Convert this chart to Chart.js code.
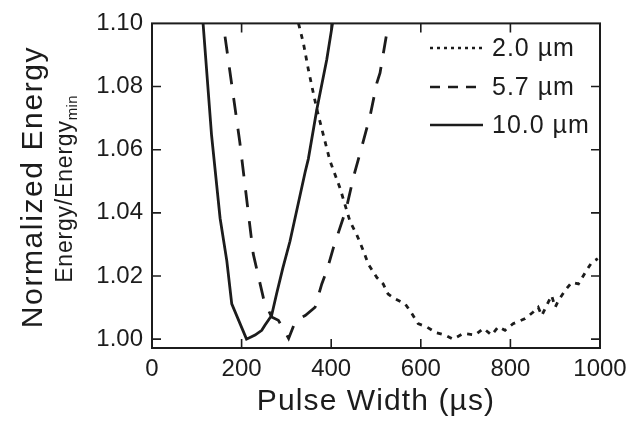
<!DOCTYPE html>
<html>
<head>
<meta charset="utf-8">
<script src="https://cdn.jsdelivr.net/npm/chart.js@4.4.1/dist/chart.umd.min.js"></script>
<style>
  html, body { margin: 0; padding: 0; background: #fff; }
  canvas { display: block; }
</style>
</head>
<body>
<canvas id="energyChart" width="635" height="425"></canvas>
<script>
// pulse width (µs) / normalized energy
const seriesNames = ['2.0 µm', '5.7 µm', '10.0 µm'];

const x2um = [327, 338, 349, 360, 368, 379, 397, 420, 442, 457, 472, 483, 502, 516, 527, 542, 565, 580, 594, 613, 635, 654, 672, 695, 721, 740, 758, 773, 788, 806, 833, 851, 862, 870, 881, 892, 900, 907, 922, 937, 952, 967, 981, 995];
const y2um = [1.100, 1.0937, 1.0854, 1.078, 1.0728, 1.0666, 1.0566, 1.0477, 1.0373, 1.0331, 1.0279, 1.0237, 1.0195, 1.0175, 1.0143, 1.0128, 1.0112, 1.0081, 1.0049, 1.0039, 1.0020, 1.0013, 1.0000, 1.0018, 1.0013, 1.0034, 1.0013, 1.0039, 1.0028, 1.0049, 1.0065, 1.0086, 1.0101, 1.0075, 1.0107, 1.0138, 1.0101, 1.0122, 1.0154, 1.018, 1.0175, 1.0211, 1.0242, 1.0255];

const x5um = [163, 196, 226, 250, 267, 282, 293, 305, 321, 342, 364, 379, 390, 405, 433, 451, 468, 487, 502, 509, 524];
const y5um = [1.0958, 1.0624, 1.027, 1.0122, 1.007, 1.006, 1.0034, 1.0002, 1.006, 1.0075, 1.0101, 1.0175, 1.0216, 1.029, 1.041, 1.052, 1.0608, 1.0708, 1.0812, 1.0843, 1.0969];

const x10um = [114, 133, 152, 167, 178, 211, 230, 245, 252, 267, 278, 292, 308, 342, 349, 368, 390, 403];
const y10um = [1.100, 1.0645, 1.0383, 1.0248, 1.0112, 1.000, 1.0013, 1.0028, 1.0044, 1.0075, 1.0143, 1.0225, 1.031, 1.053, 1.0571, 1.0728, 1.0885, 1.100];

const xTicks = [0, 200, 400, 600, 800, 1000];
const yTicks = [1.00, 1.02, 1.04, 1.06, 1.08, 1.10];

const FONT = '"Liberation Sans", Arial, sans-serif';
const INK = '#1c1c1c';

const toPoints = (xs, ys) => xs.map((x, i) => ({ x, y: ys[i] }));

const plotDash = [[5, 6], [17, 14], []];
const legendDash = [[3, 4], [10, 8], []];

// frame, inward ticks on all four sides, legend and axis titles
const decorPlugin = {
  id: 'decor',
  afterDraw(chart) {
    const { ctx, chartArea: a, scales } = chart;
    ctx.save();
    ctx.strokeStyle = INK;
    ctx.lineWidth = 2;
    ctx.strokeRect(a.left, a.top, a.right - a.left, a.bottom - a.top);

    const tl = 9;
    ctx.lineWidth = 1.6;
    ctx.beginPath();
    xTicks.slice(1, -1).forEach(v => {
      const px = scales.x.getPixelForValue(v);
      ctx.moveTo(px, a.bottom); ctx.lineTo(px, a.bottom - tl);
      ctx.moveTo(px, a.top); ctx.lineTo(px, a.top + tl);
    });
    yTicks.slice(0, -1).forEach(v => {
      const py = scales.y.getPixelForValue(v);
      ctx.moveTo(a.left, py); ctx.lineTo(a.left + tl, py);
      ctx.moveTo(a.right, py); ctx.lineTo(a.right - tl, py);
    });
    ctx.stroke();

    // legend
    const rows = [48, 87, 125];
    ctx.font = '25px ' + FONT;
    ctx.letterSpacing = '1px';
    ctx.fillStyle = INK;
    ctx.textBaseline = 'middle';
    ctx.textAlign = 'left';
    rows.forEach((y, i) => {
      ctx.beginPath();
      ctx.lineWidth = 2.5;
      ctx.setLineDash(legendDash[i]);
      ctx.moveTo(430, y); ctx.lineTo(483, y);
      ctx.stroke();
      ctx.setLineDash([]);
      ctx.fillText(seriesNames[i], 492, y + 1);
    });

    // x title
    ctx.textBaseline = 'alphabetic';
    ctx.textAlign = 'center';
    ctx.font = '30px ' + FONT;
    ctx.letterSpacing = '1.1px';
    ctx.fillText('Pulse Width (µs)', (a.left + a.right) / 2, 410);

    // y titles
    ctx.save();
    ctx.translate(42, 187);
    ctx.rotate(-Math.PI / 2);
    ctx.font = '30px ' + FONT;
    ctx.letterSpacing = '1.6px';
    ctx.fillText('Normalized Energy', 0, 0);
    ctx.restore();

    ctx.save();
    ctx.translate(72, 189);
    ctx.rotate(-Math.PI / 2);
    const main = 'Energy/Energy';
    ctx.font = '23px ' + FONT;
    ctx.letterSpacing = '0.8px';
    const wMain = ctx.measureText(main).width;
    ctx.font = '15px ' + FONT;
    ctx.letterSpacing = '0.3px';
    const wSub = ctx.measureText('min').width;
    const x0 = -(wMain + wSub) / 2;
    ctx.textAlign = 'left';
    ctx.font = '23px ' + FONT;
    ctx.letterSpacing = '0.8px';
    ctx.fillText(main, x0, 0);
    ctx.font = '15px ' + FONT;
    ctx.letterSpacing = '0.3px';
    ctx.fillText('min', x0 + wMain, 5);
    ctx.restore();

    ctx.restore();
  }
};

const datasets = [
  toPoints(x2um, y2um),
  toPoints(x5um, y5um),
  toPoints(x10um, y10um),
].map((pts, i) => ({
  label: seriesNames[i],
  data: pts,
  borderColor: INK,
  borderWidth: 2.8,
  borderDash: plotDash[i],
  pointRadius: 0,
  fill: false,
  tension: 0,
}));

const ctx = document.getElementById('energyChart').getContext('2d');
new Chart(ctx, {
  type: 'line',
  data: { datasets },
  options: {
    responsive: false,
    animation: false,
    layout: { padding: { top: 20, right: 35, left: 0, bottom: 0 } },
    plugins: {
      legend: { display: false },
      tooltip: { enabled: false },
    },
    scales: {
      x: {
        type: 'linear',
        min: 0,
        max: 1000,
        afterBuildTicks: s => { s.ticks = xTicks.map(v => ({ value: v })); },
        afterFit: s => { s.height = 77; },
        ticks: { color: INK, font: { family: FONT, size: 24 }, padding: 7, maxRotation: 0, callback: v => String(v) },
        grid: { display: false, drawTicks: false },
        border: { display: false },
      },
      y: {
        type: 'linear',
        min: 0.9972,
        max: 1.10,
        afterBuildTicks: s => { s.ticks = yTicks.map(v => ({ value: v })); },
        afterFit: s => { s.width = 152; },
        ticks: { color: INK, font: { family: FONT, size: 24 }, padding: 9, callback: v => Number(v).toFixed(2) },
        grid: { display: false, drawTicks: false },
        border: { display: false },
      },
    },
  },
  plugins: [decorPlugin],
});
</script>
</body>
</html>
